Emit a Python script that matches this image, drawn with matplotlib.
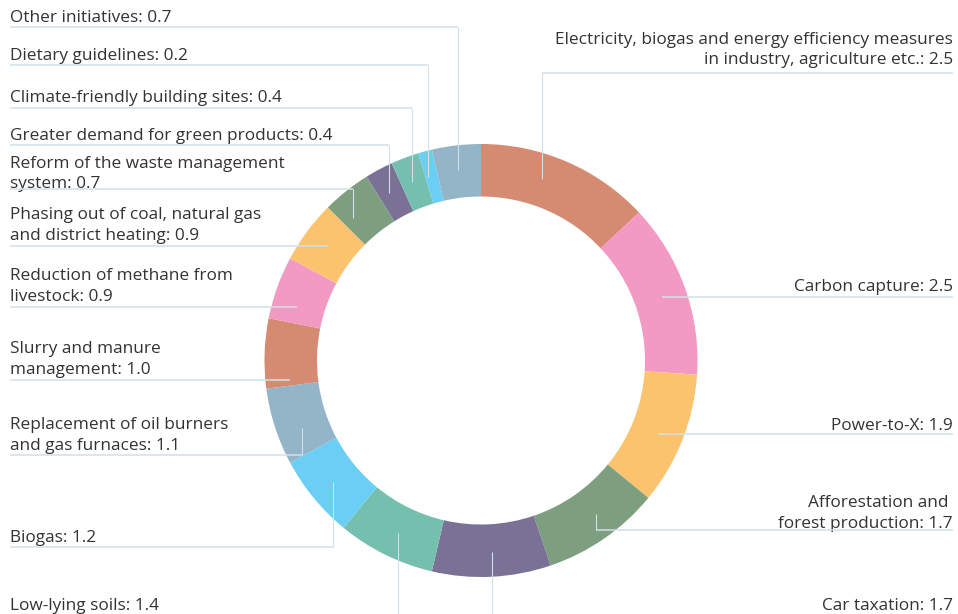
"""Donut chart of reduction contributions per initiative, labels with leader lines."""

import math

import matplotlib

matplotlib.use("Agg")
import matplotlib.pyplot as plt


names = [
    "Electricity, biogas and energy efficiency measures\nin industry, agriculture etc.",
    "Carbon capture",
    "Power-to-X",
    "Afforestation and \nforest production",
    "Car taxation",
    "Low-lying soils",
    "Biogas",
    "Replacement of oil burners\nand gas furnaces",
    "Slurry and manure\nmanagement",
    "Reduction of methane from\nlivestock",
    "Phasing out of coal, natural gas\nand district heating",
    "Reform of the waste management\nsystem",
    "Greater demand for green products",
    "Climate-friendly building sites",
    "Dietary guidelines",
    "Other initiatives",
]
values = [2.5, 2.5, 1.9, 1.7, 1.7, 1.4, 1.2, 1.1, 1.0, 0.9, 0.9, 0.7, 0.4, 0.4, 0.2, 0.7]

palette = ["#D48B72", "#F29AC3", "#FCC36F", "#7E9E80",
           "#7A7197", "#74BFAE", "#6ACEF5", "#94B4C7"]

# label placement in pixels (y grows downward): side, baseline of last line,
# y of the rule under the label, x of the vertical leg (None = straight rule)
side = ["R", "R", "R", "R", "R", "L", "L", "L", "L", "L", "L", "L", "L", "L", "L", "L"]
baseline = [64.5, 291, 430, 527.5, 609.5, 610.5, 542.3, 450, 374, 300.7, 240, 188.3,
            139.5, 101.7, 60, 22]
rule_y = [72.7, 296.7, 434.3, 530, 617, 617, 546.7, 455, 380, 306.7, 245.7, 189.3,
          145, 108.3, 65, 26.7]
leg_x = [541.7, None, None, 595.7, 491.7, 398.3, 333.3, 301.7, None, None, None, 353,
         389, 411.7, 427.7, 457.7]

W, H = 958, 614
CX, CY = 481, 360.5
R_OUT, RING = 216.5, 52.5
R_LEAD = 191.5
LEFT, RIGHT = 10, 953
LINE_STEP = 20.7
FONT_SIZE = 12.4
TEXT = "#333333"
LEAD = "#D3DFE8"

plt.rcParams["font.family"] = ["Open Sans", "DejaVu Sans"]

fig = plt.figure(figsize=(W / 100, H / 100), dpi=100)
ax = fig.add_axes([0, 0, 1, 1])

# y axis is flipped, so counter-clockwise in data space runs clockwise on screen
ax.pie(
    values,
    colors=[palette[i % len(palette)] for i in range(len(values))],
    startangle=-90,
    counterclock=True,
    center=(CX, CY),
    radius=R_OUT,
    wedgeprops=dict(width=RING, linewidth=0),
)
ax.set_xlim(0, W)
ax.set_ylim(H, 0)
ax.set_aspect("auto")
ax.axis("off")

for name, val, s, base, ry, lx in zip(names, values, side, baseline, rule_y, leg_x):
    text = f"{name}: {val:.1f}"
    lines = text.split("\n")
    for k, line in enumerate(lines):
        y = base - (len(lines) - 1 - k) * LINE_STEP
        if s == "L":
            ax.text(LEFT, y, line, ha="left", va="baseline", fontsize=FONT_SIZE, color=TEXT)
        else:
            ax.text(RIGHT, y, line, ha="right", va="baseline", fontsize=FONT_SIZE, color=TEXT)

    if lx is None:
        dy = ry - CY
        dx = math.sqrt(R_LEAD ** 2 - dy ** 2)
        end_x = CX - dx if s == "L" else CX + dx
        xs = [LEFT, end_x] if s == "L" else [end_x, RIGHT]
        ax.plot(xs, [ry, ry], color=LEAD, lw=1.1, zorder=3, solid_capstyle="butt")
    else:
        dx = lx - CX
        dy = math.sqrt(R_LEAD ** 2 - dx ** 2)
        end_y = CY + dy if ry > CY else CY - dy
        xs = [LEFT, lx] if s == "L" else [lx, RIGHT]
        ax.plot(xs, [ry, ry], color=LEAD, lw=1.1, zorder=3, solid_capstyle="butt")
        ax.plot([lx, lx], [ry, end_y], color=LEAD, lw=0.8, zorder=3, solid_capstyle="butt")

fig.savefig("out.png", dpi=100)
